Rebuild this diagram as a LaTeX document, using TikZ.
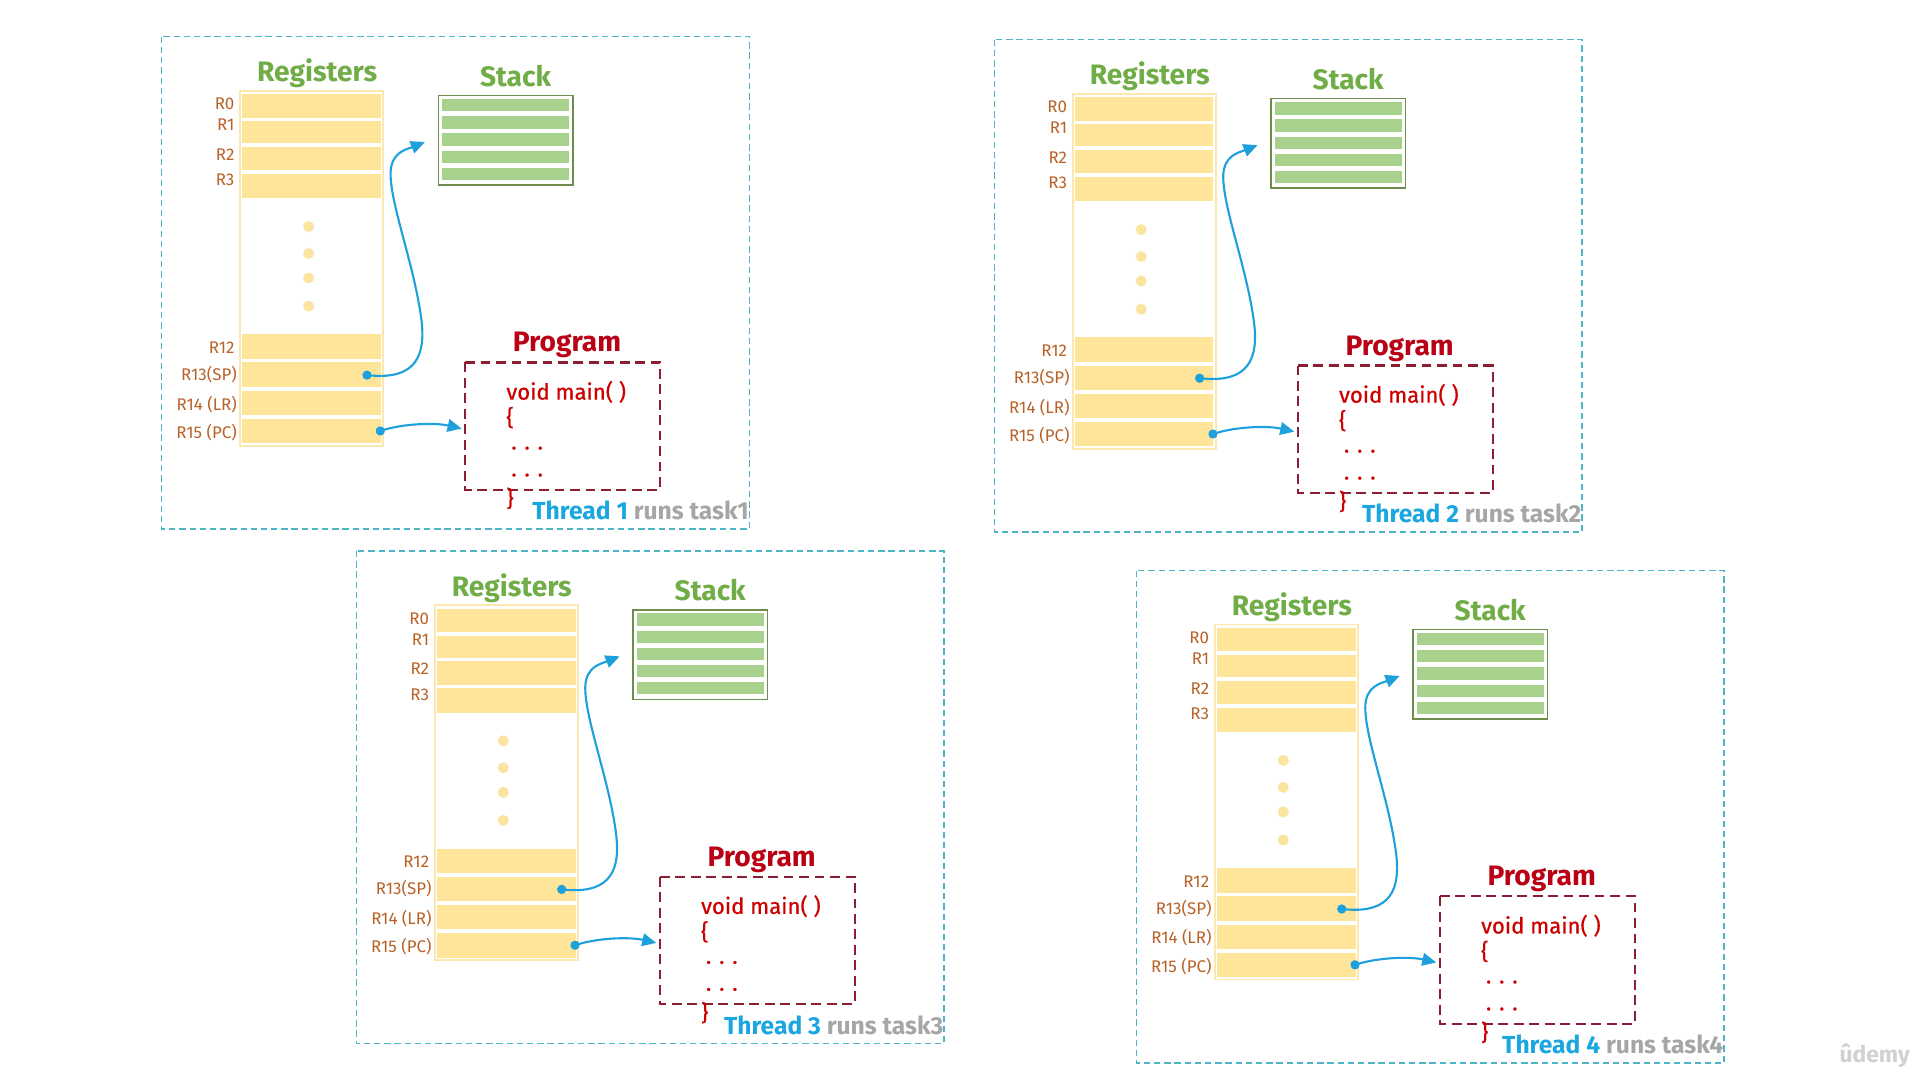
\documentclass[tikz,border=0pt]{standalone}
\usepackage{fontspec}
\setmainfont{Fira Sans}
\usetikzlibrary{arrows.meta}
\definecolor{outerc}{RGB}{80,180,200}
\definecolor{titlegreen}{RGB}{112,173,71}
\definecolor{labbrown}{RGB}{184,98,40}
\definecolor{rowfill}{RGB}{255,229,153}
\definecolor{colborder}{RGB}{252,232,175}
\definecolor{dotc}{RGB}{250,228,160}
\definecolor{stackbar}{RGB}{169,209,142}
\definecolor{stackborder}{RGB}{110,140,75}
\definecolor{arrowc}{RGB}{30,160,220}
\definecolor{progtitle}{RGB}{185,0,20}
\definecolor{codered}{RGB}{205,0,0}
\definecolor{progborder}{RGB}{140,30,50}
\definecolor{threadblue}{RGB}{26,167,224}
\definecolor{threadgrey}{RGB}{166,166,166}
\tikzset{
  outerbox/.style={draw=outerc,line width=0.35pt,dash pattern=on 1.8pt off 1.1pt},
  progbox/.style={draw=progborder,line width=0.6pt,dash pattern=on 2.8pt off 1.6pt},
  title/.style={inner sep=0pt,font=\fontsize{8}{9}\selectfont\bfseries},
  reglab/.style={inner sep=0pt,anchor=east,text=labbrown,font=\fontsize{4.8}{5}\selectfont},
  coderow/.style={inner sep=0pt,anchor=west,text=codered,font=\fontsize{6.3}{7}\selectfont\addfontfeature{FakeBold=0.6}},
  threadlab/.style={inner sep=0pt,anchor=east,font=\fontsize{7}{8}\selectfont\bfseries},
  regrow/.style={fill=rowfill},
  stackrow/.style={fill=stackbar},
  ptr/.style={draw=arrowc,line width=0.6pt,{Circle[length=2.6pt,fill=arrowc]}-{Triangle[length=4pt,width=3.6pt,fill=arrowc]}}
}
\newcommand\threadpanel[3]{%
\begin{scope}[shift={(#1,#2)}]
  \draw[outerbox] (132,30) rectangle (612,432);
  \node[title,text=titlegreen] (regt#3) at (259,60) {Registers};
  \node[title,text=titlegreen] (stackt#3) at (421,62) {Stack};
  \draw[colborder,line width=0.5pt,fill=white] (196,74) rectangle (313,364);
  \foreach \a/\b in {77/96,99/117,120/139,142/162,273/293,296/316,319/339,342/362}
    \fill[regrow] (198,\a) rectangle (311,\b);
  \foreach \t/\y/\x in {R0/85/192,R1/102/192,R2/126/192,R3/147/192,R12/284/192,R13(SP)/306/194,R14 (LR)/330/194,R15 (PC)/353/194}
    \node[reglab] (lab#3-\y) at (\x,\y) {\t};
  \foreach \y in {185,207,227,250}
    \fill[dotc] (252,\y) circle (4.5);
  \draw[stackborder,line width=0.4pt,fill=white] (358,78) rectangle (468,151);
  \foreach \a in {81,95,109,123,137}
    \fill[stackrow] (361,\a) rectangle (465,\a+10);
  \node[title,text=progtitle] (progt#3) at (463,282) {Program};
  \draw[progbox] (380,296) rectangle (539,400);
  \node[coderow] (c1#3) at (413,320) {void main( )};
  \node[coderow] (c2#3) at (413,341) {\{};
  \node[coderow] (c3#3) at (417,366) {. . .};
  \node[coderow] (c4#3) at (417,388) {. . .};
  \node[coderow] (c5#3) at (413,407) {\}};
  \node[threadlab] (thr#3) at (612,417) {\textcolor{threadblue}{Thread #3} \textcolor{threadgrey}{runs task#3}};
  \coordinate (sp#3) at (296,306);
  \coordinate (stk#3) at (347,116);
  \coordinate (pc#3) at (307,353);
  \coordinate (prg#3) at (377,350);
  \draw[ptr] (sp#3) .. controls (340,310) and (348,290) .. (344,260)
     .. controls (338,215) and (318,165) .. (319,140)
     .. controls (320,124) and (332,122) .. (stk#3);
  \draw[ptr] (pc#3) .. controls (330,346) and (355,345) .. (prg#3);
\end{scope}}
\begin{document}
\begin{tikzpicture}[x=0.012245cm,y=-0.012245cm]
  \useasboundingbox[fill=white] (0,0) rectangle (1568,882);
  \threadpanel{0}{0}{1}
  \threadpanel{680}{2.5}{2}
  \threadpanel{159}{420}{3}
  \threadpanel{796}{436}{4}
  \node[inner sep=0pt,text=black!18,font=\fontsize{6.5}{7}\selectfont\bfseries] (udemy) at (1531,862) {ûdemy};
\end{tikzpicture}
\end{document}
